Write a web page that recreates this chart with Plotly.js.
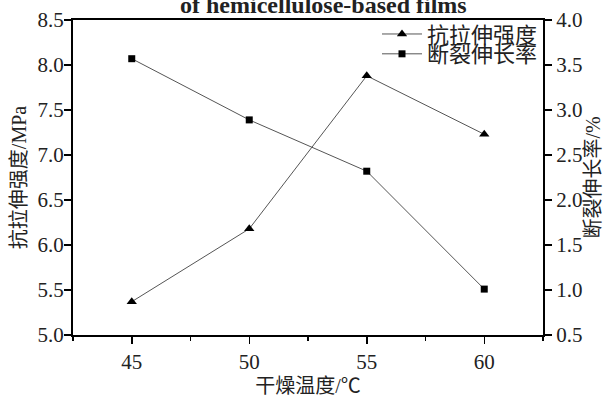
<!DOCTYPE html>
<html>
<head>
<meta charset="utf-8">
<script src="https://cdn.plot.ly/plotly-3.0.1.min.js"></script>
<style>
  html, body { margin: 0; padding: 0; background: #fff; }
  #chart { width: 613px; height: 398px; }
</style>
</head>
<body>
<div id="chart"></div>
<script>
// Drying temperature (°C)
const temps = [45, 50, 55, 60];
// Tensile strength (MPa), left axis
const tensile = [5.37, 6.18, 7.88, 7.23];
// Elongation at break (%), right axis
const elongation = [3.57, 2.89, 2.32, 1.01];

const seriesNames = ['抗拉伸强度', '断裂伸长率'];
const xTitle = '干燥温度/℃';
const yTitle = '抗拉伸强度/MPa';
const y2Title = '断裂伸长率/%';
const headline = 'of hemicellulose-based films';

const latinSerif = 'Liberation Serif';
const mixedSerif = 'Liberation Serif, Noto Sans CJK SC';
const lineCol = '#555555';

const traces = [
  {
    x: temps, y: tensile, name: seriesNames[0],
    type: 'scatter', mode: 'lines+markers',
    line: { color: lineCol, width: 1 },
    marker: { symbol: 'triangle-up', size: 9, color: '#000' },
    yaxis: 'y', legend: 'legend'
  },
  {
    x: temps, y: elongation, name: seriesNames[1],
    type: 'scatter', mode: 'lines+markers',
    line: { color: lineCol, width: 1 },
    marker: { symbol: 'square', size: 7, color: '#000' },
    yaxis: 'y2', legend: 'legend2'
  }
];

const axisCommon = {
  showline: true, linecolor: '#000', linewidth: 2,
  ticks: 'outside', ticklen: 7, tickwidth: 1.5, tickcolor: '#000',
  showgrid: false, zeroline: false,
  tickfont: { family: latinSerif, size: 21, color: '#222' }
};

const legendCommon = {
  xref: 'paper', yref: 'paper', xanchor: 'right', yanchor: 'middle',
  bgcolor: 'rgba(0,0,0,0)', borderwidth: 0,
  font: { family: mixedSerif, size: 22, color: '#222' },
  itemwidth: 40
};

const layout = {
  width: 613, height: 398,
  margin: { l: 73, r: 70, t: 20, b: 63, pad: 0 },
  paper_bgcolor: '#fff', plot_bgcolor: '#fff',
  font: { family: mixedSerif },
  showlegend: true,
  xaxis: Object.assign({}, axisCommon, {
    range: [42.5, 62.5], tickvals: [45, 50, 55, 60],
    mirror: true, ticklen: 7,
    minor: { dtick: 2.5, tick0: 42.5, ticks: 'outside', ticklen: 4, tickwidth: 1.5, tickcolor: '#000' },
    title: { text: xTitle, font: { family: mixedSerif, size: 20, color: '#222' }, standoff: 6 }
  }),
  yaxis: Object.assign({}, axisCommon, {
    range: [5.0, 8.5], dtick: 0.5, tick0: 5, tickformat: '.1f',
    ticklabelstandoff: -4,
    title: { text: yTitle, font: { family: mixedSerif, size: 20, color: '#222' }, standoff: 6 }
  }),
  yaxis2: Object.assign({}, axisCommon, {
    range: [0.5, 4.0], dtick: 0.5, tick0: 0.5, tickformat: '.1f',
    overlaying: 'y', side: 'right',
    title: { text: y2Title, font: { family: mixedSerif, size: 20, color: '#222' }, standoff: 2 }
  }),
  legend: Object.assign({}, legendCommon, { x: 1.0, y: 0.955 }),
  legend2: Object.assign({}, legendCommon, { x: 1.0, y: 0.892 }),
  annotations: [{
    text: '<b>' + headline + '</b>',
    xref: 'paper', yref: 'paper', x: 0.534, y: 1.0,
    xanchor: 'center', yanchor: 'bottom', showarrow: false,
    font: { family: latinSerif, size: 24, color: '#222' }
  }]
};

Plotly.newPlot('chart', traces, layout, { displayModeBar: false, staticPlot: true });
</script>
</body>
</html>
